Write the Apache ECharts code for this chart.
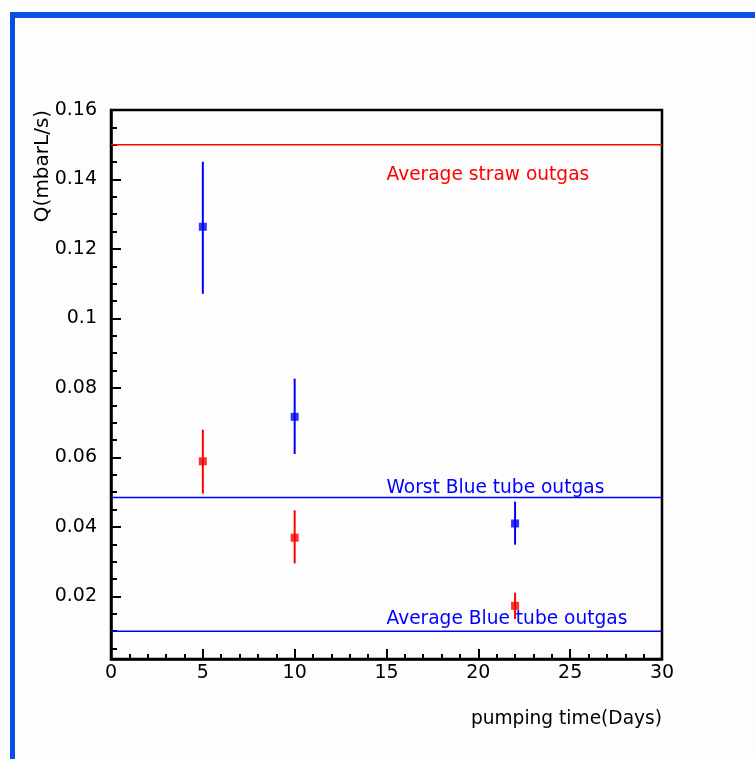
<!DOCTYPE html>
<html>
<head>
<meta charset="utf-8">
<script src="https://cdn.jsdelivr.net/npm/echarts@6/dist/echarts.min.js"></script>
<style>
html,body{margin:0;padding:0;background:#fdfdfd;}
#chart{width:755px;height:759px;}
</style>
</head>
<body>
<div id="chart"></div>
<script>
// ---- data ----
var days = [5, 10, 22];
var blueQ = [0.1264, 0.0717, 0.0410];
var blueLo = [0.1071, 0.0610, 0.0349];
var blueHi = [0.1451, 0.0827, 0.0473];
var redQ = [0.0589, 0.0369, 0.0173];
var redLo = [0.0496, 0.0295, 0.0135];
var redHi = [0.0680, 0.0448, 0.0211];
var refNames = ['Average straw outgas', 'Worst Blue tube outgas', 'Average Blue tube outgas'];
var refValues = [0.15, 0.0485, 0.01];
var refColors = ['#ff0000', '#0000ff', '#0000ff'];
var annX = [15, 15, 15];
var annY = [0.1411, 0.0512, 0.0135];
var yTickLabels = [0.02, 0.04, 0.06, 0.08, 0.1, 0.12, 0.14, 0.16];
var yMinorTicks = [0.005, 0.01, 0.015, 0.025, 0.03, 0.035, 0.045, 0.05, 0.055, 0.065, 0.07, 0.075,
  0.085, 0.09, 0.095, 0.105, 0.11, 0.115, 0.125, 0.13, 0.135, 0.145, 0.15, 0.155];
var xTitle = 'pumping time(Days)';
var yTitle = 'Q(mbarL/s)';

var chart = echarts.init(document.getElementById('chart'), null, {renderer: 'canvas'});

function errSeries(lo, hi, color) {
  return {
    type: 'custom',
    data: days.map(function (d, i) { return [d, lo[i], hi[i]]; }),
    renderItem: function (params, api) {
      var a = api.coord([api.value(0), api.value(1)]);
      var b = api.coord([api.value(0), api.value(2)]);
      return {type: 'line', shape: {x1: a[0], y1: a[1], x2: b[0], y2: b[1]},
        style: {stroke: color, lineWidth: 2}};
    },
    z: 3, silent: true
  };
}

var series = [];
refValues.forEach(function (v, i) {
  series.push({type: 'line', data: [[0, v], [30, v]], symbol: 'none',
    lineStyle: {color: refColors[i], width: 1.6}, z: 2, silent: true});
});
series.push(errSeries(blueLo, blueHi, '#0000ff'));
series.push(errSeries(redLo, redHi, '#ff0000'));
series.push({type: 'scatter', data: days.map(function (d, i) { return [d, blueQ[i]]; }),
  symbol: 'rect', symbolSize: 8, itemStyle: {color: '#0000ff'}, z: 4});
series.push({type: 'scatter', data: days.map(function (d, i) { return [d, redQ[i]]; }),
  symbol: 'rect', symbolSize: 8, itemStyle: {color: '#ff0000'}, z: 4});
series.push({
  type: 'custom',
  data: annX.map(function (x, i) { return [x, annY[i], i]; }),
  renderItem: function (params, api) {
    var p = api.coord([api.value(0), api.value(1)]);
    var i = api.value(2);
    return {type: 'text', x: p[0], y: p[1],
      style: {text: refNames[i], fill: refColors[i], font: '18.6px "DejaVu Sans"',
        textAlign: 'left', textVerticalAlign: 'middle'}};
  },
  z: 5, silent: true
});

var option = {
  animation: false,
  backgroundColor: '#fdfdfd',
  grid: {left: 111, right: 93, top: 110, bottom: 100, show: true,
    borderColor: '#000', borderWidth: 2.5, backgroundColor: 'transparent'},
  xAxis: {
    type: 'value', min: 0, max: 30, interval: 5,
    axisLine: {show: true, lineStyle: {color: '#000', width: 2.5}},
    axisTick: {show: true, inside: true, length: 10, lineStyle: {color: '#000', width: 2}},
    minorTick: {show: true, splitNumber: 5, length: 5, lineStyle: {color: '#000', width: 2}},
    axisLabel: {color: '#000', fontSize: 19, fontFamily: 'DejaVu Sans', margin: 5},
    splitLine: {show: false}
  },
  yAxis: [{
    type: 'value', min: 0.002, max: 0.16,
    axisLine: {show: true, lineStyle: {color: '#000', width: 2.5}},
    axisTick: {show: true, inside: true, length: 10, customValues: yTickLabels,
      lineStyle: {color: '#000', width: 2}},
    axisLabel: {color: '#000', fontSize: 19, fontFamily: 'DejaVu Sans', margin: 14,
      customValues: yTickLabels,
      formatter: function (v) { return String(Math.round(v * 100) / 100); }},
    splitLine: {show: false}
  }, {
    type: 'value', min: 0.002, max: 0.16, position: 'left',
    axisLine: {show: false},
    axisTick: {show: true, inside: true, length: 6, customValues: yMinorTicks,
      lineStyle: {color: '#000', width: 2}},
    axisLabel: {show: false},
    splitLine: {show: false}
  }],
  graphic: [
    {type: 'rect', shape: {x: 10, y: 12, width: 745, height: 6}, style: {fill: '#0a52e6'}, z: 100},
    {type: 'rect', shape: {x: 10, y: 12, width: 5, height: 747}, style: {fill: '#0a4ee6'}, z: 100},
    {type: 'text', x: 43, y: 166, rotation: Math.PI / 2,
      style: {text: yTitle, fill: '#000', font: '20px "DejaVu Sans"', textAlign: 'center', textVerticalAlign: 'middle'}},
    {type: 'text', x: 662, y: 719,
      style: {text: xTitle, fill: '#000', font: '18.6px "DejaVu Sans"', textAlign: 'right', textVerticalAlign: 'middle'}}
  ],
  series: series
};
chart.setOption(option);
</script>
</body>
</html>
